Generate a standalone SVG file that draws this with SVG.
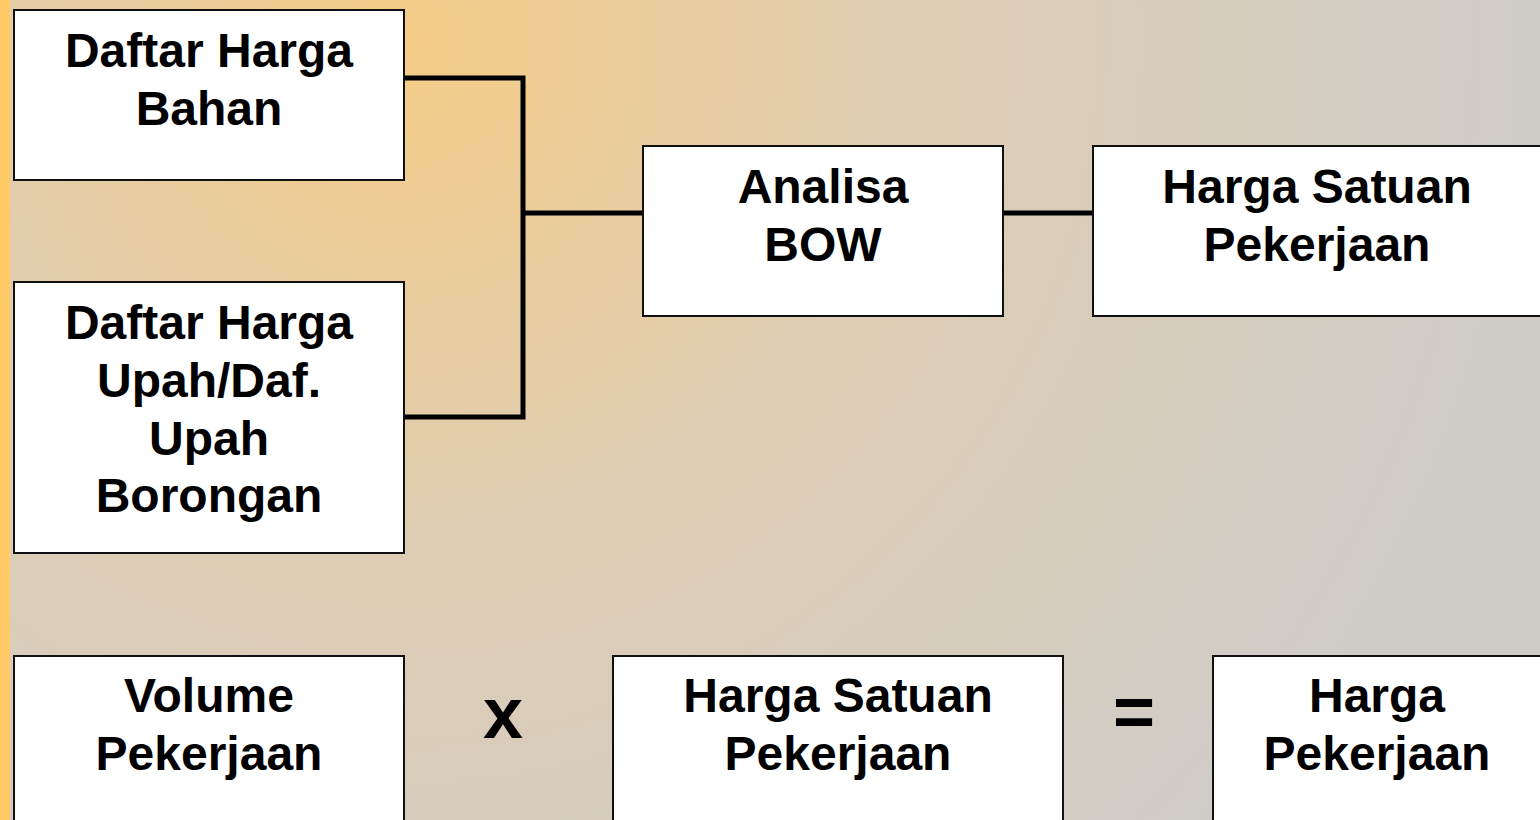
<svg xmlns="http://www.w3.org/2000/svg" width="1540" height="820" viewBox="0 0 1540 820">
<defs>
<radialGradient id="bg" gradientUnits="userSpaceOnUse" cx="400" cy="40" r="1150">
<stop offset="0" stop-color="#F5CC86"/>
<stop offset="0.45" stop-color="#DDCDB4"/>
<stop offset="1" stop-color="#CFCCC8"/>
</radialGradient>
<style>
.box{fill:#fff;stroke:#111;stroke-width:2}
.t{font-family:"Liberation Sans",Arial,sans-serif;font-weight:bold;font-size:48px;fill:#000;text-anchor:middle}
.op{font-family:"Liberation Sans",Arial,sans-serif;font-weight:bold;font-size:72px;fill:#000;text-anchor:middle}
.c{fill:none;stroke:#000;stroke-width:5}
</style>
</defs>
<rect width="1540" height="820" fill="url(#bg)"/>
<rect x="0" y="0" width="10" height="820" fill="#FFC966"/>
<g id="connectors">
<polyline class="c" points="404,78 523,78 523,417 404,417"/>
<line class="c" x1="523" y1="213" x2="643" y2="213"/>
<line class="c" x1="1003" y1="213" x2="1093" y2="213"/>
</g>
<g id="daftar-bahan">
<rect class="box" x="14" y="10" width="390" height="170"/>
<text class="t" x="209" y="67">Daftar Harga</text>
<text class="t" x="209" y="125">Bahan</text>
</g>
<g id="daftar-upah">
<rect class="box" x="14" y="282" width="390" height="271"/>
<text class="t" x="209" y="339">Daftar Harga</text>
<text class="t" x="209" y="397">Upah/Daf.</text>
<text class="t" x="209" y="455">Upah</text>
<text class="t" x="209" y="512">Borongan</text>
</g>
<g id="analisa-bow">
<rect class="box" x="643" y="146" width="360" height="170"/>
<text class="t" x="823" y="203">Analisa</text>
<text class="t" x="823" y="261">BOW</text>
</g>
<g id="harga-satuan-1">
<rect class="box" x="1093" y="146" width="450" height="170"/>
<text class="t" x="1317" y="203">Harga Satuan</text>
<text class="t" x="1317" y="261">Pekerjaan</text>
</g>
<g id="volume">
<rect class="box" x="14" y="656" width="390" height="180"/>
<text class="t" x="209" y="712">Volume</text>
<text class="t" x="209" y="770">Pekerjaan</text>
</g>
<g id="times">
<text class="op" x="503" y="738">x</text>
</g>
<g id="harga-satuan-2">
<rect class="box" x="613" y="656" width="450" height="180"/>
<text class="t" x="838" y="712">Harga Satuan</text>
<text class="t" x="838" y="770">Pekerjaan</text>
</g>
<g id="equals">
<text class="op" x="1134" y="736">=</text>
</g>
<g id="harga-pekerjaan">
<rect class="box" x="1213" y="656" width="330" height="180"/>
<text class="t" x="1377" y="712">Harga</text>
<text class="t" x="1377" y="770">Pekerjaan</text>
</g>
</svg>
